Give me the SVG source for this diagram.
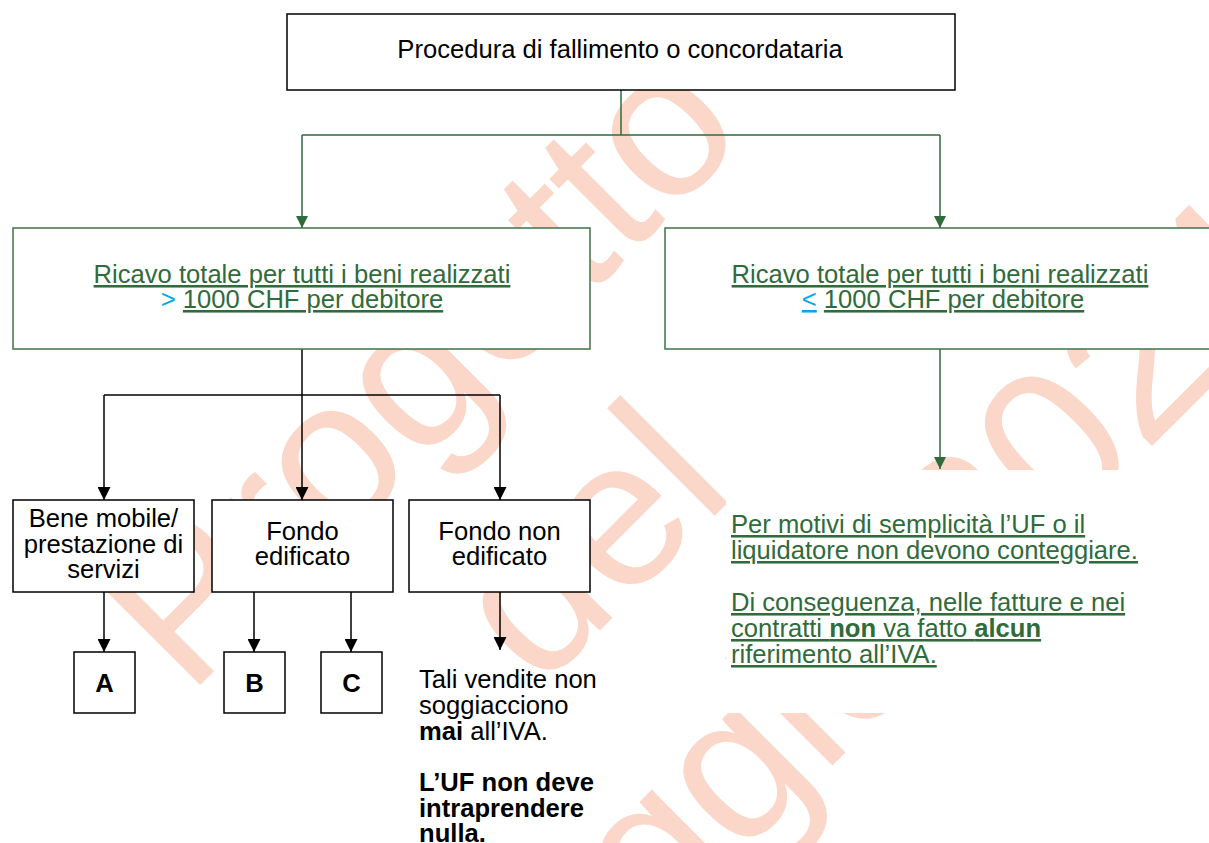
<svg xmlns="http://www.w3.org/2000/svg" width="1209" height="843" viewBox="0 0 1209 843">
<style>
.wm{font-family:"Liberation Sans",Arial,sans-serif;font-size:210px;fill:#FBD7CA}
.t{font-family:"Liberation Sans",Arial,sans-serif;font-size:25.6px;fill:#000}
.g{fill:#2f6b3b}
.u{text-decoration:underline}
.b{font-weight:bold}
.blue{fill:#00a8ec}
.box{fill:#fff;stroke:#000;stroke-width:1.5}
.gbox{fill:#fff;stroke:#3e7347;stroke-width:1.5}
.ln{fill:none;stroke:#000;stroke-width:1.5}
.gln{fill:none;stroke:#2f6b3b;stroke-width:1.5}
</style>
<defs>
<marker id="ab" markerUnits="userSpaceOnUse" markerWidth="13" markerHeight="13" refX="13" refY="6.5" orient="auto"><path d="M0,0 L13,6.5 L0,13 z" fill="#000"/></marker>
<marker id="ag" markerUnits="userSpaceOnUse" markerWidth="12" markerHeight="12" refX="12" refY="6" orient="auto"><path d="M0,0 L12,6 L0,12 z" fill="#2f6b3b"/></marker>
</defs>
<rect width="1209" height="843" fill="#fff"/>
<g id="watermark" transform="rotate(-45)">
<text class="wm" x="-360" y="626">Progetto</text>
<text class="wm" x="-107" y="870">del</text>
<text class="wm" x="-492" y="1130">maggio 2024</text>
</g>
<rect x="726" y="470" width="483" height="243" fill="#fff"/>
<g id="connectors">
<path class="gln" d="M621,90 V135 M302,135 H940"/>
<path class="gln" d="M302,135 V228" marker-end="url(#ag)"/>
<path class="gln" d="M940,135 V228" marker-end="url(#ag)"/>
<path class="gln" d="M940,349 V469" marker-end="url(#ag)"/>
<path class="ln" d="M104,395 H500"/>
<path class="ln" d="M302,349 V500" marker-end="url(#ab)"/>
<path class="ln" d="M104,395 V500" marker-end="url(#ab)"/>
<path class="ln" d="M500,395 V500" marker-end="url(#ab)"/>
<path class="ln" d="M104,592 V652" marker-end="url(#ab)"/>
<path class="ln" d="M254,592 V652" marker-end="url(#ab)"/>
<path class="ln" d="M351,592 V652" marker-end="url(#ab)"/>
<path class="ln" d="M500,592 V650" marker-end="url(#ab)"/>
</g>
<g id="n-top">
<rect class="box" x="287" y="14" width="668" height="76"/>
<text class="t" x="620" y="58" text-anchor="middle">Procedura di fallimento o concordataria</text>
</g>
<g id="n-gt">
<rect class="gbox" x="13" y="228" width="577" height="121"/>
<text class="t g" x="302" y="283" text-anchor="middle"><tspan class="u">Ricavo totale per tutti i beni realizzati</tspan></text>
<text class="t g" x="302" y="308" text-anchor="middle"><tspan class="blue">&gt;</tspan> <tspan class="u">1000 CHF per debitore</tspan></text>
</g>
<g id="n-le">
<rect class="gbox" x="665" y="228" width="560" height="121"/>
<text class="t g" x="940" y="283" text-anchor="middle"><tspan class="u">Ricavo totale per tutti i beni realizzati</tspan></text>
<text class="t g" x="943" y="308" text-anchor="middle"><tspan class="blue u">&lt;</tspan> <tspan class="u">1000 CHF per debitore</tspan></text>
</g>
<g id="n-bene">
<rect class="box" x="13" y="500" width="181" height="92"/>
<text class="t" text-anchor="middle"><tspan x="103.5" y="527">Bene mobile/</tspan><tspan x="103.5" y="552.5">prestazione di</tspan><tspan x="103.5" y="578">servizi</tspan></text>
</g>
<g id="n-fe">
<rect class="box" x="212" y="500" width="181" height="92"/>
<text class="t" text-anchor="middle"><tspan x="302.5" y="539.5">Fondo</tspan><tspan x="302.5" y="565">edificato</tspan></text>
</g>
<g id="n-fne">
<rect class="box" x="409" y="500" width="181" height="92"/>
<text class="t" text-anchor="middle"><tspan x="499.5" y="539.5">Fondo non</tspan><tspan x="499.5" y="565">edificato</tspan></text>
</g>
<g id="n-a">
<rect class="box" x="74" y="652" width="61" height="61"/>
<text class="t b" x="104.5" y="692" text-anchor="middle">A</text>
</g>
<g id="n-b">
<rect class="box" x="224" y="652" width="61" height="61"/>
<text class="t b" x="254.5" y="692" text-anchor="middle">B</text>
</g>
<g id="n-c">
<rect class="box" x="321" y="652" width="61" height="61"/>
<text class="t b" x="351.5" y="692" text-anchor="middle">C</text>
</g>
<g id="n-tali">
<text class="t"><tspan x="419" y="688">Tali vendite non</tspan><tspan x="419" y="714">soggiacciono</tspan><tspan x="419" y="740"><tspan class="b">mai</tspan> all’IVA.</tspan></text>
<text class="t b"><tspan x="419" y="791">L’UF non deve</tspan><tspan x="419" y="817">intraprendere</tspan><tspan x="419" y="842">nulla.</tspan></text>
</g>
<g id="n-note">
<text class="t g u"><tspan x="731" y="533">Per motivi di semplicità l’UF o il</tspan><tspan x="731" y="559">liquidatore non devono conteggiare.</tspan><tspan x="731" y="611">Di conseguenza, nelle fatture e nei</tspan><tspan x="731" y="637">contratti <tspan class="b">non</tspan> va fatto <tspan class="b">alcun</tspan></tspan><tspan x="731" y="663">riferimento all’IVA.</tspan></text>
</g>
</svg>
